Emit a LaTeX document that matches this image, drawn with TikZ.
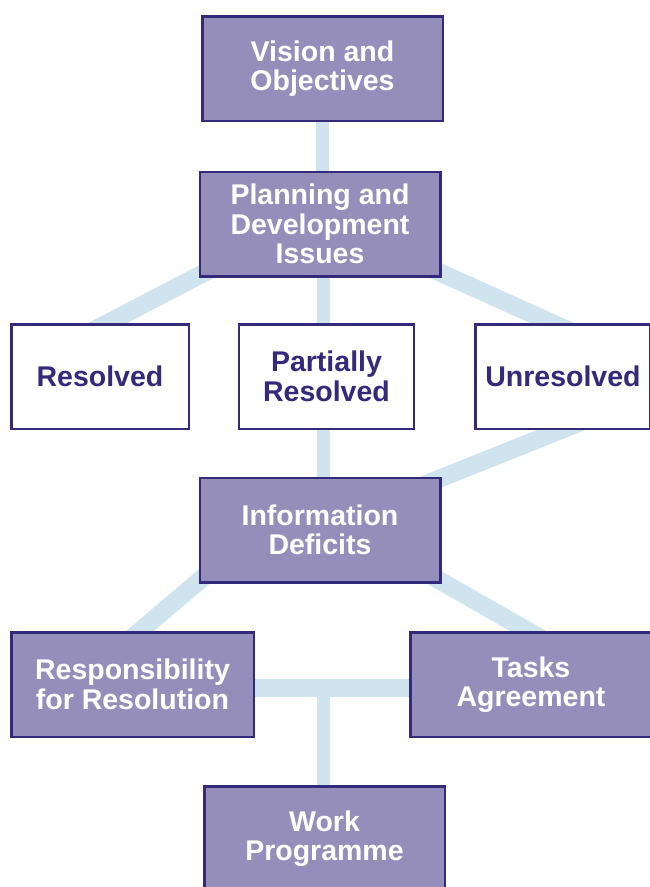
\documentclass[tikz,border=0pt]{standalone}
\usepackage{fontspec}
\setmainfont{Liberation Sans}
\usepackage{xcolor}
\usetikzlibrary{calc, backgrounds}

\definecolor{boxfill}{HTML}{958EBA}
\definecolor{boxedge}{HTML}{332A7C}
\definecolor{linkblue}{HTML}{D0E4EF}

\begin{document}
\begin{tikzpicture}[x=1pt, y=-1pt,
  every node/.style={font=\fontsize{28.5}{29.5}\selectfont\bfseries, align=center, inner sep=0pt},
  box/.style={draw=boxedge, line width=2.5pt, fill=boxfill, text=white, minimum width=240.5pt, minimum height=104.5pt},
  openbox/.style={draw=boxedge, line width=2.5pt, fill=white, text=boxedge, minimum width=175pt, minimum height=104.5pt},
  link/.style={draw=linkblue, line width=18pt},
  vlink/.style={draw=linkblue, line width=13pt}]
  \useasboundingbox (0,0) rectangle (650,887);

  \node[box] (vision) at (322.5,68.5) {Vision and\\Objectives};
  \node[box] (plan) at (320,224) {Planning and\\Development\\Issues};
  \node[openbox, minimum width=177.5pt] (res) at (100,376.5) {Resolved};
  \node[openbox] (part) at (326.5,376.5) {Partially\\Resolved};
  \node[openbox] (unres) at (563,376.5) {Unresolved};
  \node[box] (info) at (320,530) {Information\\Deficits};
  \node[box, minimum width=242.5pt] (resp) at (132.5,684.5) {Responsibility\\for Resolution};
  \node[box, minimum width=241.5pt] (tasks) at (531,684.5) {Tasks\\Agreement};
  \node[box] (work) at (324.5,838.5) {Work\\Programme};

  % pale links behind the boxes
  \begin{scope}[on background layer]
    \coordinate (spine) at ([xshift=-3pt]part.center);
    \draw[vlink] (vision) -- (vision |- plan);
    \draw[link] ([xshift=-22pt]plan.center) -- ([xshift=-50pt, yshift=23.5pt]res.center);
    \draw[link] ([xshift=12pt]plan.center) -- ([xshift=108pt]unres.center);
    \draw[vlink] (spine |- plan) -- (spine |- info);
    \draw[link] ([xshift=132pt]unres.center) -- ([xshift=-9pt]info.center);
    \draw[link] ([xshift=-61pt]info.center) -- ([xshift=-55.5pt]resp.center);
    \draw[link] ([xshift=31pt]info.center) -- ([xshift=91pt]tasks.center);
    \draw[link] ([yshift=-3pt]resp.center) -- ([yshift=-3pt]tasks.center);
    \coordinate (join) at (resp.center -| work.center);
    \draw[vlink] ([xshift=-1pt]work.center) -- ([xshift=-1pt, yshift=-3pt]join);
  \end{scope}
\end{tikzpicture}
\end{document}
